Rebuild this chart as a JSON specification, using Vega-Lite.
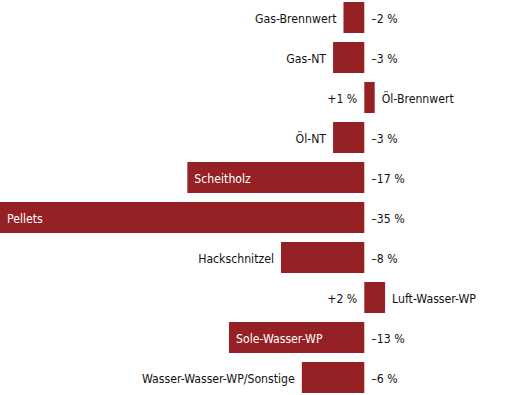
{
  "$schema": "https://vega.github.io/schema/vega-lite/v6.json",
  "width": 510,
  "height": 395,
  "autosize": {"type": "fit", "contains": "padding"},
  "padding": 0,
  "background": "white",
  "config": {"view": {"stroke": null}, "text": {"font": "DejaVu Sans Condensed", "fontSize": 12.2, "color": "#111111"}},
  "data": {"values": [
    {"kat": "Gas-Brennwert", "wert": -2, "label": "–2 %", "lage": "aussen"},
    {"kat": "Gas-NT", "wert": -3, "label": "–3 %", "lage": "aussen"},
    {"kat": "Öl-Brennwert", "wert": 1, "label": "+1 %", "lage": "aussen"},
    {"kat": "Öl-NT", "wert": -3, "label": "–3 %", "lage": "aussen"},
    {"kat": "Scheitholz", "wert": -17, "label": "–17 %", "lage": "innen"},
    {"kat": "Pellets", "wert": -35, "label": "–35 %", "lage": "innen"},
    {"kat": "Hackschnitzel", "wert": -8, "label": "–8 %", "lage": "aussen"},
    {"kat": "Luft-Wasser-WP", "wert": 2, "label": "+2 %", "lage": "aussen"},
    {"kat": "Sole-Wasser-WP", "wert": -13, "label": "–13 %", "lage": "innen"},
    {"kat": "Wasser-Wasser-WP/Sonstige", "wert": -6, "label": "–6 %", "lage": "aussen"}
  ]},
  "encoding": {
    "y": {"field": "kat", "type": "nominal", "sort": null, "axis": null,
          "scale": {"paddingInner": 0.225, "paddingOuter": 0.05}}
  },
  "layer": [
    {
      "mark": {"type": "bar", "color": "#962124"},
      "encoding": {
        "x": {"field": "wert", "type": "quantitative", "axis": null, "scale": {"domain": [-35, 14], "nice": false, "zero": false}},
        "x2": {"datum": 0}
      }
    },
    {
      "transform": [{"filter": "datum.wert < 0"}],
      "mark": {"type": "text", "align": "left", "dx": 7, "baseline": "middle", "dy": 1},
      "encoding": {"x": {"datum": 0, "type": "quantitative"}, "text": {"field": "label"}}
    },
    {
      "transform": [{"filter": "datum.wert > 0"}],
      "mark": {"type": "text", "align": "right", "dx": -7, "baseline": "middle", "dy": 1},
      "encoding": {"x": {"datum": 0, "type": "quantitative"}, "text": {"field": "label"}}
    },
    {
      "transform": [{"filter": "datum.wert < 0 && datum.lage == 'aussen'"}],
      "mark": {"type": "text", "align": "right", "dx": -7, "baseline": "middle", "dy": 1},
      "encoding": {"x": {"field": "wert", "type": "quantitative"}, "text": {"field": "kat"}}
    },
    {
      "transform": [{"filter": "datum.lage == 'innen'"}],
      "mark": {"type": "text", "align": "left", "dx": 7, "baseline": "middle", "dy": 1, "color": "white"},
      "encoding": {"x": {"field": "wert", "type": "quantitative"}, "text": {"field": "kat"}}
    },
    {
      "transform": [{"filter": "datum.wert > 0"}],
      "mark": {"type": "text", "align": "left", "dx": 7, "baseline": "middle", "dy": 1},
      "encoding": {"x": {"field": "wert", "type": "quantitative"}, "text": {"field": "kat"}}
    }
  ]
}
